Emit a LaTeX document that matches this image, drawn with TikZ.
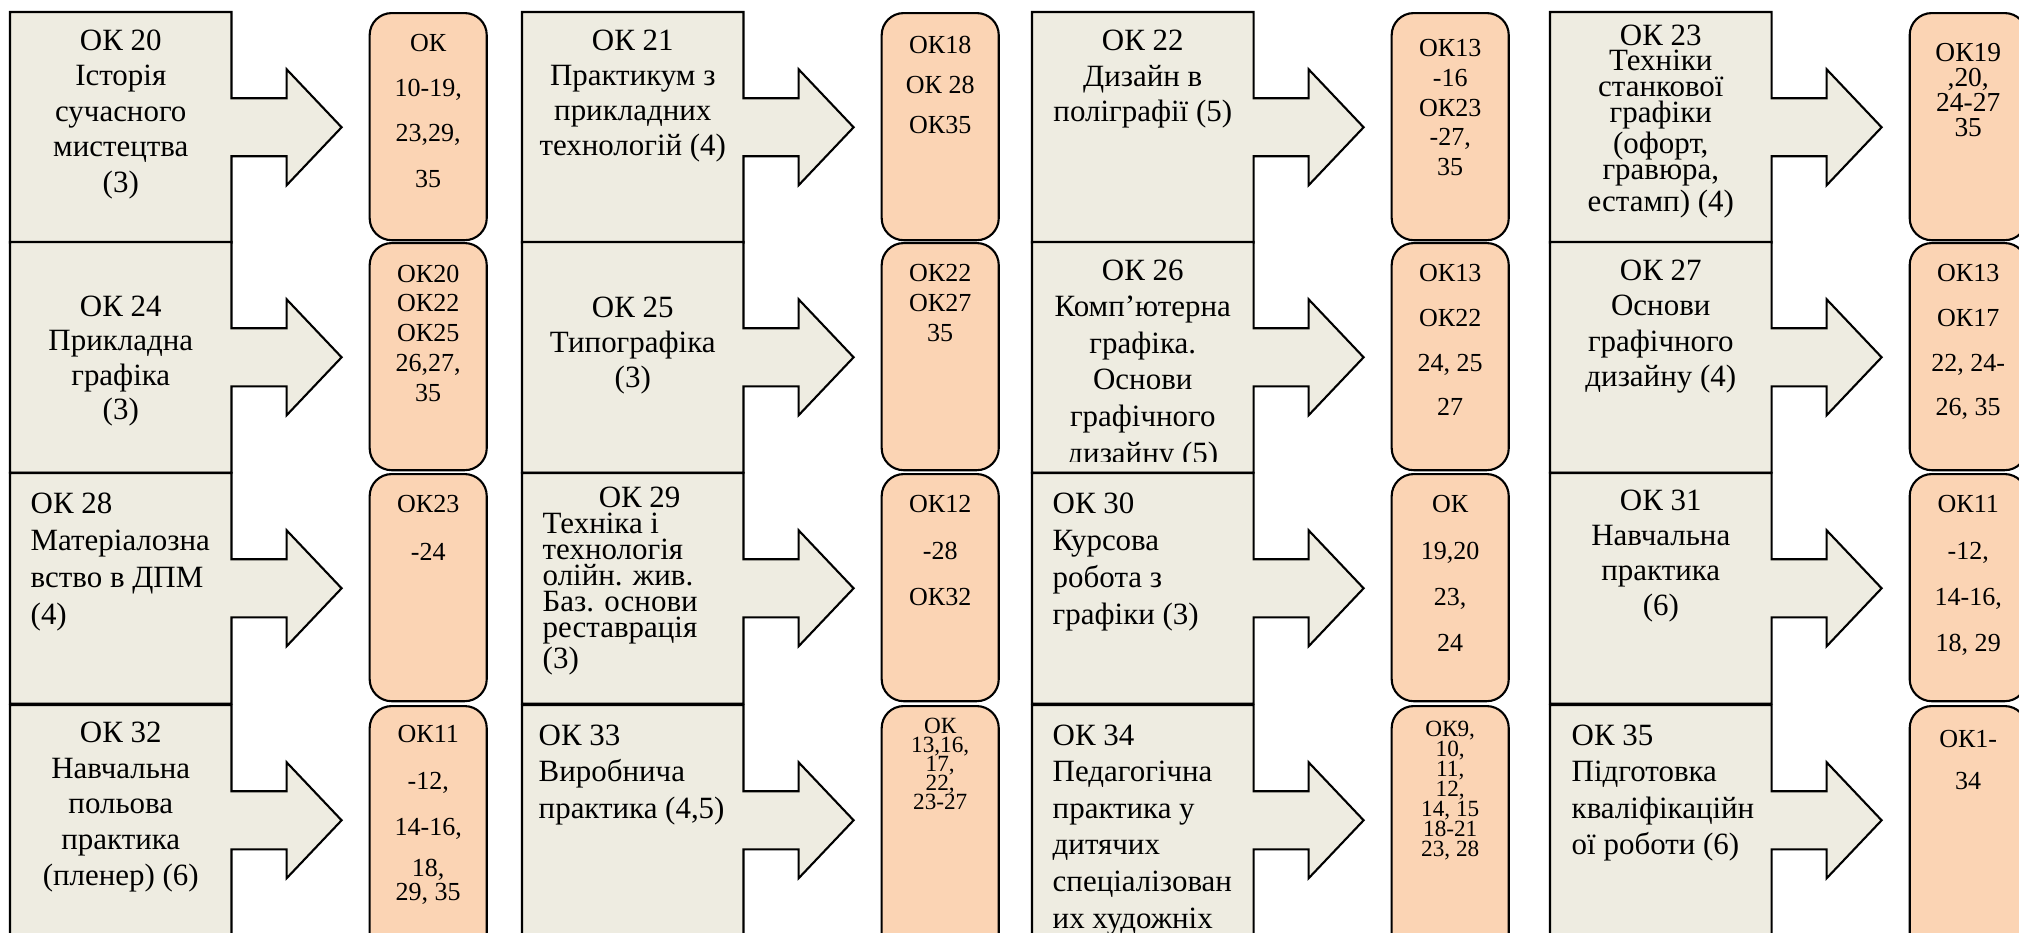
\documentclass[tikz,border=0pt]{standalone}
\usepackage{fontspec}
\setmainfont{Liberation Serif}
\usetikzlibrary{positioning}
\definecolor{boxgray}{HTML}{EEECE1}
\definecolor{refpeach}{HTML}{FBD4B4}
\tikzset{
  course/.style    = {rectangle, minimum width=2.2cm, minimum height=2.29cm,
                      inner sep=0, anchor=north west},
  okcallout/.style = {draw, line width=0.6pt, fill=boxgray},
  refbox/.style    = {rectangle, rounded corners=0.22cm, draw, line width=0.6pt,
                      fill=refpeach, minimum width=1.17cm, minimum height=2.27cm,
                      inner sep=0},
  ctext/.style     = {font=\fontsize{8.8}{#1}\selectfont, align=center, inner sep=0},
  ltext/.style     = {ctext=#1, align=left},
  reftext/.style 2 args = {font=\fontsize{#1}{#2}\selectfont, align=center, inner sep=0}
}
\newcommand{\okarrow}[1]{%
  \draw[okcallout] (#1.north west) -- (#1.north east) -- ([yshift=0.29cm]#1.east)
    -- ++(0.55cm,0) -- ++(0,0.29cm) -- ([xshift=1.1cm]#1.east)
    -- ++(-0.55cm,-0.58cm) -- ++(0,0.29cm) -- ([yshift=-0.29cm]#1.east)
    -- (#1.south east) -- (#1.south west) -- cycle;}

\begin{document}
\begin{tikzpicture}[x=0.01cm, y=-0.01cm]
  \useasboundingbox (0,0) rectangle (2019,932);
  \clip (0,0) rectangle (2019,932);

  % course boxes with arrows
  \foreach \n/\x/\y in {20/10/12, 21/522/12, 22/1032/12, 23/1550/12,
                        24/10/242, 25/522/242, 26/1032/242, 27/1550/242,
                        28/10/473, 29/522/473, 30/1032/473, 31/1550/473,
                        32/10/705, 33/522/705, 34/1032/705, 35/1550/705}
    \node[course] (c\n) at (\x,\y) {};
  \foreach \n in {20,...,35}
    \okarrow{c\n};

  % boxes with the following courses
  \foreach \n in {20,...,31}
    \node[refbox, right=1.37cm of c\n.north east, anchor=north west] (r\n) {};
  \foreach \n in {32,...,35}
    \node[refbox, minimum height=2.6cm, right=1.37cm of c\n.north east,
          anchor=north west] (r\n) {};

  % row 1
  \node[ctext=10.1, below=0.17cm of c20.north] (t20) {ОК 20\\Історія\\сучасного\\мистецтва\\(3)};
  \node[ctext=10, below=0.17cm of c21.north] (t21) {ОК 21\\Практикум з\\прикладних\\технологій (4)};
  \node[ctext=10.2, below=0.17cm of c22.north] (t22) {ОК 22\\Дизайн в\\поліграфії (5)};
  \node[ctext=7.3, below=0.12cm of c23.north] (t23) {ОК 23\\Техніки\\станкової\\графіки\\(офорт,\\гравюра,\\естамп) (4)};

  \node[reftext={7.4}{12.8}, below=0.22cm of r20.north] (s20) {ОК\\10-19,\\23,29,\\35};
  \node[reftext={7.4}{11.4}, below=0.23cm of r21.north] (s21) {ОК18\\ОК 28\\ОК35};
  \node[reftext={7.4}{8.4}, below=0.27cm of r22.north] (s22) {ОК13\\-16\\ОК23\\-27,\\35};
  \node[reftext={7.8}{7.1}, below=0.31cm of r23.north] (s23) {ОК19\\,20,\\24-27\\35};

  % row 2
  \node[ctext=9.8, below=0.53cm of c24.north] (t24) {ОК 24\\Прикладна\\графіка\\(3)};
  \node[ctext=10, below=0.54cm of c25.north] (t25) {ОК 25\\Типографіка\\(3)};
  \begin{scope}
    \clip (c26.north west) rectangle ([yshift=0.11cm]c26.south east);
    \node[ctext=10.4, below=0.17cm of c26.north] (t26) {ОК 26\\Комп’ютерна\\графіка.\\Основи\\графічного\\дизайну (5)};
  \end{scope}
  \node[ctext=10.1, below=0.17cm of c27.north] (t27) {ОК 27\\Основи\\графічного\\дизайну (4)};

  \node[reftext={7.4}{8.5}, below=0.22cm of r24.north] (s24) {ОК20\\ОК22\\ОК25\\26,27,\\35};
  \node[reftext={7.4}{8.5}, below=0.22cm of r25.north] (s25) {ОК22\\ОК27\\35};
  \node[reftext={7.4}{12.7}, below=0.22cm of r26.north] (s26) {ОК13\\ОК22\\24, 25\\27};
  \node[reftext={7.4}{12.7}, below=0.22cm of r27.north] (s27) {ОК13\\ОК17\\22, 24-\\26, 35};

  % row 3
  \node[ltext=10.5, below right=0.19cm and 0.20cm of c28.north west] (t28) {ОК 28\\Матеріалозна\\вство в ДПМ\\(4)};
  \node[ltext=7.4, below right=0.13cm and 0.20cm of c29.north west] (t29) {\hspace*{0.56cm}ОК 29\\Техніка і\\технологія\\олійн. жив.\\Баз. основи\\реставрація\\(3)};
  \node[ltext=10.5, below right=0.19cm and 0.20cm of c30.north west] (t30) {ОК 30\\Курсова\\робота з\\графіки (3)};
  \node[ctext=10, below=0.16cm of c31.north] (t31) {ОК 31\\Навчальна\\практика\\(6)};

  \node[reftext={7.4}{13.4}, below=0.22cm of r28.north] (s28) {ОК23\\-24};
  \node[reftext={7.4}{13.1}, below=0.22cm of r29.north] (s29) {ОК12\\-28\\ОК32};
  \node[reftext={7.4}{13.1}, below=0.22cm of r30.north] (s30) {ОК\\19,20\\23,\\24};
  \node[reftext={7.4}{13.1}, below=0.22cm of r31.north] (s31) {ОК11\\-12,\\14-16,\\18, 29};

  % row 4
  \node[ctext=10.2, below=0.16cm of c32.north] (t32) {ОК 32\\Навчальна\\польова\\практика\\(пленер) (6)};
  \node[ltext=10.4, below right=0.19cm and 0.16cm of c33.north west] (t33) {ОК 33\\Виробнича\\практика (4,5)};
  \node[ltext=10.4, below right=0.19cm and 0.20cm of c34.north west] (t34) {ОК 34\\Педагогічна\\практика у\\дитячих\\спеціалізован\\их художніх};
  \node[ltext=10.4, below right=0.19cm and 0.21cm of c35.north west] (t35) {ОК 35\\Підготовка\\кваліфікаційн\\ої роботи (6)};

  \node[reftext={7.4}{13.1}, below=0.20cm of r32.north] (s32) {ОК11\\-12,\\14-16,\\[-0.05cm]18,\\[-0.22cm]29, 35};
  \node[reftext={6.6}{5.4}, below=0.12cm of r33.north] (s33) {ОК\\13,16,\\17,\\22,\\23-27};
  \node[reftext={6.6}{5.7}, below=0.15cm of r34.north] (s34) {ОК9,\\10,\\11,\\12,\\14, 15\\18-21\\23, 28};
  \node[reftext={7.4}{11.7}, below=0.25cm of r35.north] (s35) {ОК1-\\34};
\end{tikzpicture}
\end{document}
